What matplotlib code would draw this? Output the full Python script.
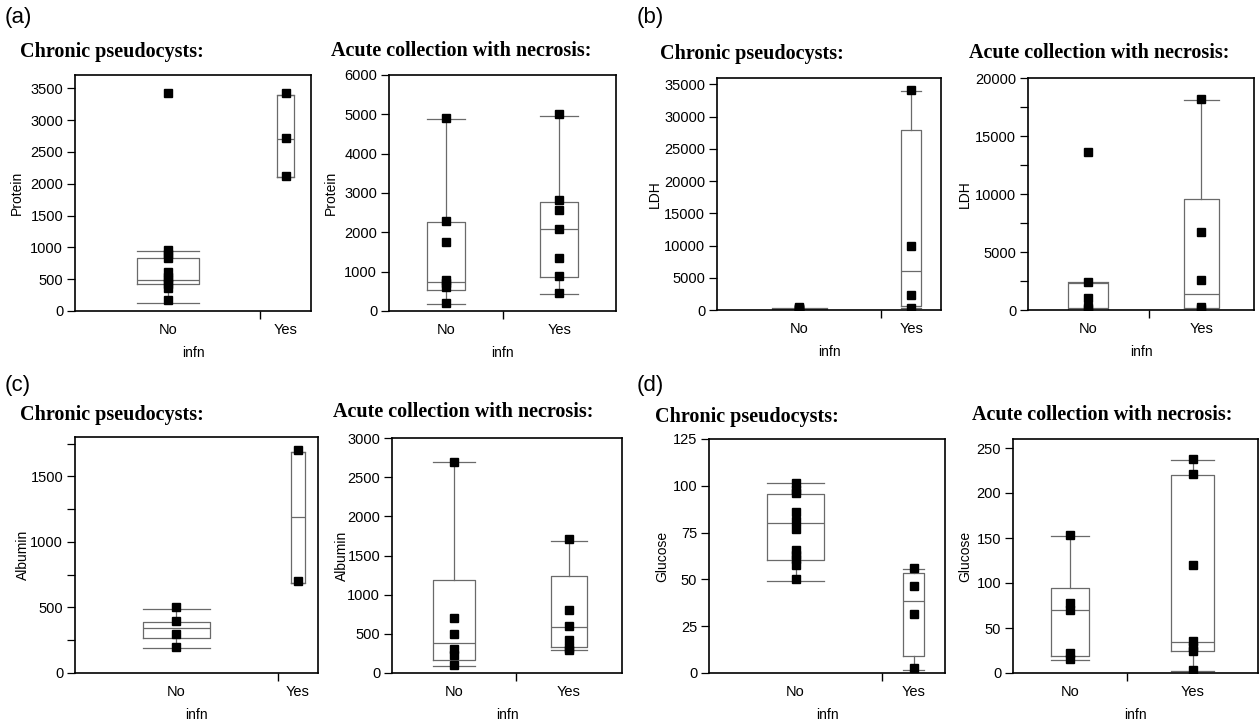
"""
Pancreatic fluid collections: protein, LDH, albumin and glucose by infection
status, JMP-style quantile box plots with group widths sized by n.
"""
import matplotlib
matplotlib.use("Agg")
import matplotlib.pyplot as plt
from matplotlib.ticker import MultipleLocator, NullLocator

plt.rcParams["font.family"] = ["Liberation Sans", "DejaVu Sans"]

W, H = 1260, 720
GROUPS = ["No", "Yes"]

# ── (a) Protein ─────────────────────────────────────────────────────
# box rows: (q1, median, q3, whisker low, whisker high)
PROT_CHR_NO = [3420, 960, 900, 830, 620, 540, 480, 430, 360, 170]
PROT_CHR_YES = [3420, 2720, 2130]
PROT_CHR_BOX = [(420, 495, 840, 130, 950), (2110, 2710, 3400, 2110, 3400)]
PROT_CHR_N = [11, 3]

PROT_ACU_NO = [4900, 2300, 1750, 780, 700, 600, 200]
PROT_ACU_YES = [5000, 2820, 2570, 2090, 1340, 900, 470]
PROT_ACU_BOX = [(540, 740, 2270, 170, 4870), (870, 2080, 2760, 440, 4960)]
PROT_ACU_N = [8, 8]

# ── (b) LDH ─────────────────────────────────────────────────────────
LDH_CHR_NO = [500, 300, 150, 80, 30]
LDH_CHR_YES = [34200, 10000, 2400, 250]
LDH_CHR_BOX = [(30, 80, 150, 0, 300), (600, 6000, 28000, 250, 34000)]
LDH_CHR_N = [11, 4]

LDH_ACU_NO = [13650, 2450, 1000, 300, 60]
LDH_ACU_YES = [18200, 6750, 2550, 300, 60]
LDH_ACU_BOX = [(40, 150, 2350, 0, 2450), (140, 1350, 9550, 40, 18100)]
LDH_ACU_N = [8, 7]

# ── (c) Albumin ─────────────────────────────────────────────────────
ALB_CHR_NO = [500, 400, 300, 200]
ALB_CHR_YES = [1700, 700]
ALB_CHR_BOX = [(270, 340, 390, 190, 490), (690, 1190, 1685, 690, 1685)]
ALB_CHR_N = [10, 2]

ALB_ACU_NO = [2700, 700, 500, 310, 230, 100]
ALB_ACU_YES = [1710, 800, 600, 420, 320, 290]
ALB_ACU_BOX = [(170, 385, 1185, 85, 2690), (335, 590, 1240, 290, 1685)]
ALB_ACU_N = [7, 6]

# ── (d) Glucose ─────────────────────────────────────────────────────
GLU_CHR_NO = [101.5, 98, 96, 86, 81, 77, 65.5, 63, 61, 57.5, 50]
GLU_CHR_YES = [56.3, 46.5, 31.4, 2.7]
GLU_CHR_BOX = [(60.3, 80, 95.6, 49.2, 101.3), (9.1, 38.2, 53.5, 1.4, 55.5)]
GLU_CHR_N = [11, 4]

GLU_ACU_NO = [153, 78, 70, 22, 16]
GLU_ACU_YES = [238, 221, 120, 36, 29, 25, 3]
GLU_ACU_BOX = [(19, 69.5, 95, 15, 152), (25, 35, 220, 2, 237)]
GLU_ACU_N = [7, 8]

CHRONIC = "Chronic pseudocysts:"
ACUTE = "Acute collection with necrosis:"


def fx(x):
    return x / W


def fy(y):
    return 1 - y / H


def panel(fig, rect, title, title_xy, ylab, ylab_x, no_pts, yes_pts, box, n,
          ytop, ystep, yminor=None):
    l, r, t, b = rect
    ax = fig.add_axes([fx(l), fy(b), (r - l) / W, (b - t) / H])

    split = n[0] / sum(n)
    pos = [split / 2, (1 + split) / 2]
    widths = [split / 3, (1 - split) / 3]
    stats = [dict(q1=s[0], med=s[1], q3=s[2], whislo=s[3], whishi=s[4], fliers=[])
             for s in box]
    line = dict(color="#6a6a6a", lw=0.9)
    ax.bxp(stats, positions=pos, widths=widths, capwidths=widths,
           showfliers=False, manage_ticks=False,
           boxprops=line, whiskerprops=line, capprops=line, medianprops=line)

    for x, pts in zip(pos, [no_pts, yes_pts]):
        ax.plot([x] * len(pts), pts, "s", color="black", ms=5.8, zorder=3)

    ax.set_xlim(0, 1)
    ax.set_ylim(0, ytop)
    ax.set_xticks(pos, GROUPS)
    ax.set_xticks([split], minor=True)
    ax.tick_params(axis="x", which="major", length=0, pad=8.5, labelsize=10.5)
    ax.tick_params(axis="x", which="minor", length=6, width=1, direction="out")
    ax.yaxis.set_major_locator(MultipleLocator(ystep))
    if yminor:
        ax.yaxis.set_minor_locator(MultipleLocator(yminor))
    else:
        ax.yaxis.set_minor_locator(NullLocator())
    ax.tick_params(axis="y", which="both", length=6, width=0.9, pad=2.5,
                   labelsize=10.5)
    for s in ax.spines.values():
        s.set_linewidth(1.2)

    fig.text(fx(title_xy[0]), fy(title_xy[1]), title, family="Liberation Serif",
             fontweight="bold", fontsize=14.5, ha="left", va="center")
    fig.text(fx(ylab_x), fy((t + b) / 2), ylab, rotation=90, fontsize=10,
             ha="center", va="center")
    fig.text(fx((l + r) / 2), fy(b + 42), "infn", fontsize=10,
             ha="center", va="center")
    return ax


fig = plt.figure(figsize=(12.6, 7.2), dpi=100)

panel(fig, (75, 311, 75, 311), CHRONIC, (20, 52), "Protein", 17,
      PROT_CHR_NO, PROT_CHR_YES, PROT_CHR_BOX, PROT_CHR_N, 3710, 500)
panel(fig, (389, 616, 75, 311), ACUTE, (331, 51), "Protein", 331,
      PROT_ACU_NO, PROT_ACU_YES, PROT_ACU_BOX, PROT_ACU_N, 6000, 1000)
panel(fig, (717, 941, 78, 310), CHRONIC, (660, 54), "LDH", 655,
      LDH_CHR_NO, LDH_CHR_YES, LDH_CHR_BOX, LDH_CHR_N, 36000, 5000)
panel(fig, (1028, 1254, 78, 310), ACUTE, (969, 53), "LDH", 965,
      LDH_ACU_NO, LDH_ACU_YES, LDH_ACU_BOX, LDH_ACU_N, 20000, 5000, 2500)

panel(fig, (75, 318, 437, 673), CHRONIC, (20, 415), "Albumin", 23,
      ALB_CHR_NO, ALB_CHR_YES, ALB_CHR_BOX, ALB_CHR_N, 1800, 500, 250)
panel(fig, (392, 622, 438, 673), ACUTE, (333, 412), "Albumin", 342,
      ALB_ACU_NO, ALB_ACU_YES, ALB_ACU_BOX, ALB_ACU_N, 3000, 500)
panel(fig, (709, 945, 439, 673), CHRONIC, (655, 417), "Glucose", 662,
      GLU_CHR_NO, GLU_CHR_YES, GLU_CHR_BOX, GLU_CHR_N, 125, 25)
panel(fig, (1013, 1258, 439, 673), ACUTE, (972, 415), "Glucose", 965,
      GLU_ACU_NO, GLU_ACU_YES, GLU_ACU_BOX, GLU_ACU_N, 260, 50)

for lab, x, y in [("(a)", 5, 18), ("(b)", 637, 18), ("(c)", 5, 386), ("(d)", 637, 386)]:
    fig.text(fx(x), fy(y), lab, fontsize=16, ha="left", va="center")

fig.savefig("out.png", dpi=100)
